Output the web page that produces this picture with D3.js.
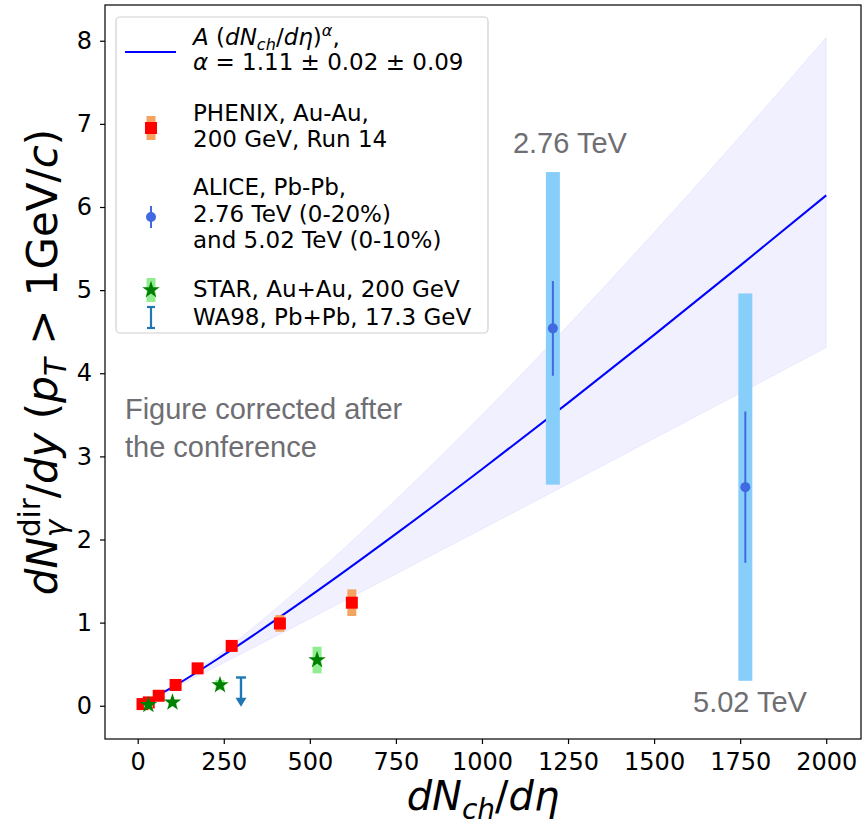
<!DOCTYPE html>
<html>
<head>
<meta charset="utf-8">
<script src="https://cdn.jsdelivr.net/npm/d3@7"></script>
<style>
  body { margin: 0; background: #fff; }
  svg text { font-family: "DejaVu Sans", sans-serif; white-space: pre; }
</style>
</head>
<body>
<svg width="863" height="824"></svg>
<script>
// data
var phenixX = [14, 32, 61, 110, 174, 273, 413, 622];
var phenixY = [0.02, 0.04, 0.12, 0.25, 0.45, 0.72, 0.99, 1.24];
var phenixSys = [0.01, 0.01, 0.02, 0.03, 0.05, 0.06, 0.10, 0.16];

var starX = [31, 101, 239, 521];
var starY = [0.01, 0.04, 0.25, 0.55];
var starSys = [0.03, 0.03, 0.06, 0.16];

var aliceX = [1206, 1765];
var aliceY = [4.54, 2.63];
var aliceStat = [0.57, 0.91];
var aliceSys = [1.88, 2.33];
var aliceLabels = ["2.76 TeV", "5.02 TeV"];
var aliceLabelX = [1090, 1613];
var aliceLabelY = [6.65, -0.07];

var wa98X = [300];
var wa98Up = [0.34];

// fit A (dNch/deta)^alpha and its band
var fitX = [14, 100, 250, 500, 750, 1000, 1250, 1500, 1750, 2000];
var fitY = [0.026, 0.221, 0.611, 1.318, 2.067, 2.845, 3.644, 4.462, 5.295, 6.14];
var bandLo = [0.022, 0.203, 0.517, 1.048, 1.585, 2.125, 2.668, 3.214, 3.761, 4.31];
var bandHi = [0.029, 0.221, 0.663, 1.523, 2.478, 3.500, 4.574, 5.694, 6.851, 8.04];

var xTicks = [0, 250, 500, 750, 1000, 1250, 1500, 1750, 2000];
var yTicks = [0, 1, 2, 3, 4, 5, 6, 7, 8];

var svg = d3.select("svg");
var plotL = 105, plotR = 861, plotT = 5, plotB = 739;

var x = d3.scaleLinear().domain([-95, 2101]).range([plotL, plotR]);
var y = d3.scaleLinear().domain([-0.40, 8.43]).range([plotB, plotT]);

// mathtext-ish helper
function rich(sel, parts, size) {
    var cur = 0;
    parts.forEach(function (p) {
        var off = p.sub ? 0.22 * size : p.sup ? -0.4 * size : 0;
        var ts = sel.append("tspan").text(p.t)
            .attr("dy", off - cur)
            .style("font-size", ((p.sub || p.sup) ? size * 0.7 : size) + "px")
            .style("font-style", p.it ? "italic" : "normal");
        if (p.dx) ts.attr("dx", p.dx);
        cur = off;
    });
}

// band + fit
var band = d3.area()
    .x(function (d, i) { return x(fitX[i]); })
    .y0(function (d, i) { return y(bandLo[i]); })
    .y1(function (d, i) { return y(bandHi[i]); })
    .curve(d3.curveMonotoneX);
svg.append("path")
    .attr("d", band(fitX))
    .attr("fill", "blue").attr("fill-opacity", 0.06)
    .attr("stroke", "blue").attr("stroke-opacity", 0.06).attr("stroke-width", 1);

var line = d3.line()
    .x(function (d, i) { return x(fitX[i]); })
    .y(function (d, i) { return y(fitY[i]); })
    .curve(d3.curveMonotoneX);
svg.append("path")
    .attr("d", line(fitX))
    .attr("fill", "none").attr("stroke", "#0000ff").attr("stroke-width", 2);

// PHENIX
svg.selectAll("rect.phsys").data(phenixX).enter().append("rect")
    .attr("x", function (d) { return x(d) - 4.5; })
    .attr("width", 9)
    .attr("y", function (d, i) { return y(phenixY[i] + phenixSys[i]); })
    .attr("height", function (d, i) { return y(phenixY[i] - phenixSys[i]) - y(phenixY[i] + phenixSys[i]); })
    .attr("fill", "#f4a460");
svg.selectAll("rect.ph").data(phenixX).enter().append("rect")
    .attr("x", function (d) { return x(d) - 6; })
    .attr("y", function (d, i) { return y(phenixY[i]) - 6; })
    .attr("width", 12).attr("height", 12)
    .attr("fill", "#ff0000");

// STAR
svg.selectAll("rect.stsys").data(starX).enter().append("rect")
    .attr("x", function (d) { return x(d) - 4.5; })
    .attr("width", 9)
    .attr("y", function (d, i) { return y(starY[i] + starSys[i]); })
    .attr("height", function (d, i) { return y(starY[i] - starSys[i]) - y(starY[i] + starSys[i]); })
    .attr("fill", "#90ee90");
var star = d3.symbol().type(d3.symbolStar).size(95);
svg.selectAll("path.st").data(starX).enter().append("path")
    .attr("d", star)
    .attr("transform", function (d, i) { return "translate(" + x(d) + "," + y(starY[i]) + ")"; })
    .attr("fill", "#008000");

// ALICE
svg.selectAll("rect.alsys").data(aliceX).enter().append("rect")
    .attr("x", function (d) { return x(d) - 7; })
    .attr("width", 14)
    .attr("y", function (d, i) { return y(aliceY[i] + aliceSys[i]); })
    .attr("height", function (d, i) { return y(aliceY[i] - aliceSys[i]) - y(aliceY[i] + aliceSys[i]); })
    .attr("fill", "#87cefa");
svg.selectAll("line.alstat").data(aliceX).enter().append("line")
    .attr("x1", function (d) { return x(d); }).attr("x2", function (d) { return x(d); })
    .attr("y1", function (d, i) { return y(aliceY[i] + aliceStat[i]); })
    .attr("y2", function (d, i) { return y(aliceY[i] - aliceStat[i]); })
    .attr("stroke", "#4169e1").attr("stroke-width", 2);
svg.selectAll("circle.al").data(aliceX).enter().append("circle")
    .attr("cx", function (d) { return x(d); })
    .attr("cy", function (d, i) { return y(aliceY[i]); })
    .attr("r", 5)
    .attr("fill", "#4169e1");

// WA98 upper limit
wa98X.forEach(function (d, i) {
    var cx = x(d), ty = y(wa98Up[i]), by = y(0);
    svg.append("line").attr("x1", cx).attr("x2", cx).attr("y1", ty).attr("y2", by - 4)
        .attr("stroke", "#1f77b4").attr("stroke-width", 2.4);
    svg.append("line").attr("x1", cx - 5).attr("x2", cx + 5).attr("y1", ty).attr("y2", ty)
        .attr("stroke", "#1f77b4").attr("stroke-width", 2.4);
    svg.append("path").attr("d", "M" + (cx - 5.5) + "," + (by - 8) + "L" + (cx + 5.5) + "," + (by - 8) + "L" + cx + "," + (by + 1) + "Z")
        .attr("fill", "#1f77b4");
});

// annotations
var grey = "#6e6e73";
svg.selectAll("text.alab").data(aliceLabels).enter().append("text")
    .attr("x", function (d, i) { return x(aliceLabelX[i]); })
    .attr("y", function (d, i) { return y(aliceLabelY[i]); })
    .style("font-family", "'Liberation Sans', Arial, sans-serif")
    .style("font-size", "29px")
    .attr("fill", grey)
    .text(function (d) { return d; });
var note = ["Figure corrected after", "the conference"];
var noteY = [3.45, 2.99];
svg.selectAll("text.note").data(note).enter().append("text")
    .attr("x", x(-37))
    .attr("y", function (d, i) { return y(noteY[i]); })
    .style("font-family", "'Liberation Sans', Arial, sans-serif")
    .style("font-size", "29px")
    .attr("fill", grey)
    .text(function (d) { return d; });

// axes
var xAxis = svg.append("g").attr("transform", "translate(0," + plotB + ")")
    .call(d3.axisBottom(x).tickValues(xTicks).tickFormat(d3.format("d"))
        .tickSize(5).tickPadding(9).tickSizeOuter(0));
var yAxis = svg.append("g").attr("transform", "translate(" + plotL + ",0)")
    .call(d3.axisLeft(y).tickValues(yTicks).tickFormat(d3.format("d"))
        .tickSize(5).tickPadding(8).tickSizeOuter(0));
[xAxis, yAxis].forEach(function (a) {
    a.select(".domain").remove();
    a.selectAll("line").attr("stroke", "#000").attr("stroke-width", 1.2);
    a.selectAll("text").style("font-family", "'DejaVu Sans', sans-serif")
        .style("font-size", "24px").attr("fill", "#000");
});
svg.append("rect")
    .attr("x", plotL).attr("y", plotT)
    .attr("width", plotR - plotL).attr("height", plotB - plotT)
    .attr("fill", "none").attr("stroke", "#000").attr("stroke-width", 1.2);

// axis labels
var xl = svg.append("text").attr("x", (plotL + plotR) / 2).attr("y", 810)
    .attr("text-anchor", "middle");
rich(xl, [{ t: "dN", it: true }, { t: "ch", it: true, sub: true }, { t: "/" }, { t: "dη", it: true }], 40);

var yl = svg.append("text").attr("transform", "translate(57,362) rotate(-90)")
    .attr("text-anchor", "middle");
rich(yl, [
    { t: "dN", it: true }, { t: "γ", it: true, sub: true }, { t: "dir", sup: true, dx: -17.4 },
    { t: "/" }, { t: "dy", it: true }, { t: " (" }, { t: "p", it: true }, { t: "T", it: true, sub: true },
    { t: " > 1GeV/" }, { t: "c", it: true }, { t: ")" }
], 42);

// legend
var lg = svg.append("g");
lg.append("rect").attr("x", 116).attr("y", 17).attr("width", 372).attr("height", 316)
    .attr("rx", 4).attr("fill", "#fff").attr("fill-opacity", 0.8)
    .attr("stroke", "#d0d0d0").attr("stroke-width", 1.2);
var lx = 151, tx = 193, fs = 23;
lg.append("line").attr("x1", 125).attr("x2", 176).attr("y1", 52).attr("y2", 52)
    .attr("stroke", "#0000ff").attr("stroke-width", 2);
rich(lg.append("text").attr("x", tx).attr("y", 45),
    [{ t: "A", it: true }, { t: " (" }, { t: "dN", it: true }, { t: "ch", it: true, sub: true }, { t: "/" },
     { t: "dη", it: true }, { t: ")" }, { t: "α", it: true, sup: true }, { t: "," }], fs);
rich(lg.append("text").attr("x", tx).attr("y", 70),
    [{ t: "α", it: true }, { t: " = 1.11 ± 0.02 ± 0.09" }], fs);

// PHENIX handle
lg.append("rect").attr("x", lx - 4.5).attr("y", 116).attr("width", 9).attr("height", 24).attr("fill", "#f4a460");
lg.append("rect").attr("x", lx - 6).attr("y", 122).attr("width", 12).attr("height", 12).attr("fill", "#ff0000");
// ALICE handle
lg.append("line").attr("x1", lx).attr("x2", lx).attr("y1", 206).attr("y2", 228)
    .attr("stroke", "#4169e1").attr("stroke-width", 2);
lg.append("circle").attr("cx", lx).attr("cy", 217).attr("r", 5).attr("fill", "#4169e1");
// STAR handle
lg.append("rect").attr("x", lx - 4.5).attr("y", 278).attr("width", 9).attr("height", 24).attr("fill", "#90ee90");
lg.append("path").attr("d", star).attr("transform", "translate(" + lx + ",290)").attr("fill", "#008000");
// WA98 handle
lg.append("line").attr("x1", lx).attr("x2", lx).attr("y1", 307).attr("y2", 328)
    .attr("stroke", "#1f77b4").attr("stroke-width", 2.2);
[307, 328].forEach(function (yy) {
    lg.append("line").attr("x1", lx - 4).attr("x2", lx + 4).attr("y1", yy).attr("y2", yy)
        .attr("stroke", "#1f77b4").attr("stroke-width", 2.2);
});

var legLines = [
    ["PHENIX, Au-Au,", 121], ["200 GeV, Run 14", 147],
    ["ALICE, Pb-Pb,", 195], ["2.76 TeV (0-20%)", 222], ["and 5.02 TeV (0-10%)", 248],
    ["STAR, Au+Au, 200 GeV", 297], ["WA98, Pb+Pb, 17.3 GeV", 325]
];
legLines.forEach(function (l) {
    lg.append("text").attr("x", tx).attr("y", l[1]).style("font-size", fs + "px").text(l[0]);
});
</script>
</body>
</html>
